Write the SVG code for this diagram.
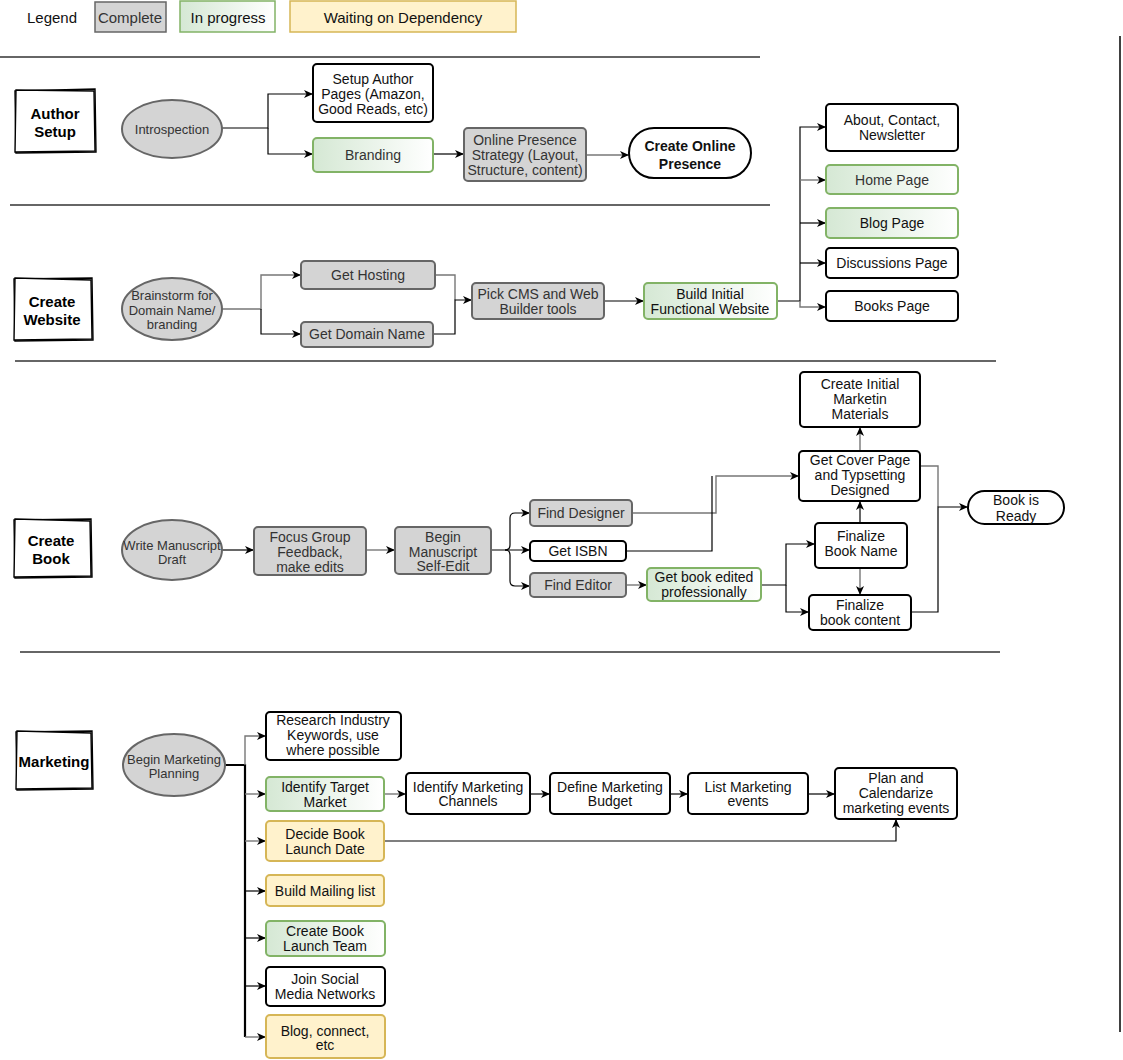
<svg xmlns="http://www.w3.org/2000/svg" width="1123" height="1060" viewBox="0 0 1123 1060">
<style>
text{font-family:"Liberation Sans",Arial,sans-serif;font-size:14px;text-anchor:middle;dominant-baseline:central;fill:#111}
.g text,text.g{fill:#333}
.e text{font-size:13px;fill:#333}
.lbl text{font-size:15px;font-weight:bold;fill:#000}
.gray{fill:#d4d4d4;stroke:#666;stroke-width:2}
.grn{fill:url(#gr);stroke:#82b366;stroke-width:2}
.yel{fill:#fff2cc;stroke:#d6b656;stroke-width:2}
.blk{fill:#fff;stroke:#000;stroke-width:2}
.sk{fill:#fff;stroke:#000;stroke-width:1.4}
.c{fill:none;stroke:#000;stroke-width:1.2}
.cg{fill:none;stroke:#777;stroke-width:1.4}
.sec{stroke:#333;stroke-width:1.3}
</style>
<defs>
<linearGradient id="gr" x1="0" y1="0" x2="1" y2="0"><stop offset="0" stop-color="#d5e8d4"/><stop offset="1" stop-color="#ffffff"/></linearGradient>
<marker id="a" markerUnits="userSpaceOnUse" markerWidth="10" markerHeight="10" refX="9" refY="4" orient="auto"><path d="M0,0 L9,4 L0,8 L2.5,4 Z" fill="#000"/></marker>
</defs>
<rect width="1123" height="1060" fill="#fff"/>

<g id="legend">
<text x="52" y="17" style="font-size:15px">Legend</text>
<rect x="95" y="2" width="71" height="30" fill="#d4d4d4" stroke="#666" stroke-width="1.5"/>
<text x="130" y="17" style="font-size:15px;fill:#333">Complete</text>
<rect x="180" y="1" width="95" height="31" fill="url(#gr)" stroke="#82b366" stroke-width="1.5"/>
<text x="228" y="17" style="font-size:15px">In progress</text>
<rect x="290" y="1" width="226" height="31" fill="#fff2cc" stroke="#d6b656" stroke-width="1.5"/>
<text x="403" y="17" style="font-size:15px">Waiting on Dependency</text>
</g>

<g id="separators">
<line class="sec" x1="0" y1="57" x2="760" y2="57"/>
<line class="sec" x1="10" y1="205" x2="770" y2="205"/>
<line class="sec" x1="15" y1="361" x2="996" y2="361"/>
<line class="sec" x1="20" y1="652" x2="1000" y2="652"/>
<line x1="1120" y1="36" x2="1120" y2="1032" stroke="#000" stroke-width="1.5"/>
</g>

<g id="connectors">
<path class="c" d="M222,128 H268 V94 H313" marker-end="url(#a)"/>
<path class="c" d="M268,128 V154 H313" marker-end="url(#a)"/>
<path class="c" d="M433,154 H464" marker-end="url(#a)"/>
<path class="cg" d="M586,155 H629" marker-end="url(#a)"/>
<path class="cg" d="M222,309 H261 V275 H301" marker-end="url(#a)"/>
<path class="c" d="M261,309 V334 H301" marker-end="url(#a)"/>
<path class="cg" d="M435,275 H455 V300"/>
<path class="c" d="M433,334 H455 V300 H472" marker-end="url(#a)"/>
<path class="c" d="M604,301 H644" marker-end="url(#a)"/>
<path class="c" d="M777,301 H800 V127 H826" marker-end="url(#a)"/>
<path class="cg" d="M800,180 H826" marker-end="url(#a)"/>
<path class="c" d="M800,223 H826" marker-end="url(#a)"/>
<path class="c" d="M800,263 H826" marker-end="url(#a)"/>
<path class="cg" d="M800,301 V307 H826" marker-end="url(#a)"/>
<path class="c" d="M222,550 H254" marker-end="url(#a)"/>
<path class="cg" d="M366,550 H395" marker-end="url(#a)"/>
<path class="c" d="M491,550 H530" marker-end="url(#a)"/>
<path class="c" d="M505,550 Q510,550 510,545 V518 Q510,513 515,513 H530" marker-end="url(#a)"/>
<path class="c" d="M505,550 Q510,550 510,555 V581 Q510,586 515,586 H530" marker-end="url(#a)"/>
<path class="cg" d="M626,585 H647" marker-end="url(#a)"/>
<path class="cg" d="M632,513 H716 V476 H799" marker-end="url(#a)"/>
<path class="c" d="M626,551 H712 V476"/>
<path class="c" d="M761,585 H786 V544 H815" marker-end="url(#a)"/>
<path class="c" d="M786,585 V612 H809" marker-end="url(#a)"/>
<path class="c" d="M860,523 V501" marker-end="url(#a)"/>
<path class="cg" d="M860,568 V595" marker-end="url(#a)"/>
<path class="cg" d="M860,451 V427" marker-end="url(#a)"/>
<path class="cg" d="M920,466 H938 V507"/>
<path class="c" d="M911,612 H938 V507 H968" marker-end="url(#a)"/>
<path d="M225,765 H245 V1037" fill="none" stroke="#000" stroke-width="2.2"/>
<path class="cg" d="M245,765 V736 H266" marker-end="url(#a)"/>
<path class="cg" d="M245,794 H266" marker-end="url(#a)"/>
<path class="cg" d="M245,841 H266" marker-end="url(#a)"/>
<path class="c" d="M245,891 H266" marker-end="url(#a)"/>
<path class="c" d="M245,938 H266" marker-end="url(#a)"/>
<path class="c" d="M245,986 H266" marker-end="url(#a)"/>
<path class="cg" d="M245,1037 H266" marker-end="url(#a)"/>
<path class="cg" d="M384,794 H406" marker-end="url(#a)"/>
<path class="c" d="M530,794 H550" marker-end="url(#a)"/>
<path class="c" d="M670,794 H688" marker-end="url(#a)"/>
<path class="c" d="M808,794 H835" marker-end="url(#a)"/>
<path class="c" d="M384,841 H896 V819" marker-end="url(#a)"/>
</g>

<g id="lane-author" class="lbl">
<path class="sk" d="M15,91 L95,89 L96,152 L16,153 Z"/>
<path class="sk" d="M16,90 L94,91 L95,151 L15,152 Z" stroke-width="1"/>
<text x="55" y="113">Author</text><text x="55" y="131">Setup</text>
</g>
<g id="n-introspection" class="e">
<ellipse cx="172" cy="129" rx="50" ry="29" class="gray"/>
<text x="172" y="129">Introspection</text>
</g>
<g id="n-setup-author">
<rect x="313" y="64" width="120" height="58" rx="4" class="blk"/>
<text x="373" y="79">Setup Author</text><text x="373" y="94">Pages (Amazon,</text><text x="373" y="109">Good Reads, etc)</text>
</g>
<g id="n-branding" class="g">
<rect x="313" y="138" width="120" height="34" rx="4" class="grn"/>
<text x="373" y="155">Branding</text>
</g>
<g id="n-online-strategy" class="g">
<rect x="464" y="128" width="122" height="53" rx="4" class="gray"/>
<text x="525" y="140">Online Presence</text><text x="525" y="155">Strategy (Layout,</text><text x="525" y="170">Structure, content)</text>
</g>
<g id="n-create-online">
<rect x="629" y="128" width="122" height="50" rx="25" class="blk"/>
<text x="690" y="146" style="font-weight:bold">Create Online</text><text x="690" y="164" style="font-weight:bold">Presence</text>
</g>
<g id="n-about">
<rect x="826" y="104" width="132" height="47" rx="4" class="blk"/>
<text x="892" y="120">About, Contact,</text><text x="892" y="135">Newsletter</text>
</g>
<g id="n-home" class="g">
<rect x="826" y="165" width="132" height="29" rx="4" class="grn"/>
<text x="892" y="180">Home Page</text>
</g>
<g id="n-blog">
<rect x="826" y="208" width="132" height="30" rx="4" class="grn"/>
<text x="892" y="223">Blog Page</text>
</g>
<g id="n-discussions">
<rect x="826" y="248" width="132" height="30" rx="4" class="blk"/>
<text x="892" y="263">Discussions Page</text>
</g>
<g id="n-books">
<rect x="826" y="291" width="132" height="30" rx="4" class="blk"/>
<text x="892" y="306">Books Page</text>
</g>

<g id="lane-website" class="lbl">
<path class="sk" d="M14,279 L92,278 L93,340 L15,341 Z"/>
<path class="sk" d="M15,278 L91,280 L92,339 L14,340 Z" stroke-width="1"/>
<text x="52" y="301">Create</text><text x="52" y="319">Website</text>
</g>
<g id="n-brainstorm" class="e">
<ellipse cx="172" cy="309" rx="50" ry="31" class="gray"/>
<text x="172" y="295">Brainstorm for</text><text x="172" y="310">Domain Name/</text><text x="172" y="324">branding</text>
</g>
<g id="n-hosting" class="g">
<rect x="301" y="261" width="134" height="28" rx="4" class="gray"/>
<text x="368" y="275">Get Hosting</text>
</g>
<g id="n-domain" class="g">
<rect x="301" y="322" width="132" height="25" rx="4" class="gray"/>
<text x="367" y="334">Get Domain Name</text>
</g>
<g id="n-cms" class="g">
<rect x="472" y="283" width="132" height="36" rx="4" class="gray"/>
<text x="538" y="294">Pick CMS and Web</text><text x="538" y="309">Builder tools</text>
</g>
<g id="n-build-site">
<rect x="644" y="283" width="133" height="36" rx="4" class="grn"/>
<text x="710" y="294">Build Initial</text><text x="710" y="309">Functional Website</text>
</g>

<g id="lane-book" class="lbl">
<path class="sk" d="M14,520 L91,519 L92,577 L15,578 Z"/>
<path class="sk" d="M15,519 L90,521 L91,576 L14,577 Z" stroke-width="1"/>
<text x="51" y="540">Create</text><text x="51" y="558">Book</text>
</g>
<g id="n-write" class="e">
<ellipse cx="172" cy="550" rx="50" ry="30" class="gray"/>
<text x="172" y="545">Write Manuscript</text><text x="172" y="559">Draft</text>
</g>
<g id="n-focus" class="g">
<rect x="254" y="527" width="112" height="48" rx="4" class="gray"/>
<text x="310" y="537">Focus Group</text><text x="310" y="552">Feedback,</text><text x="310" y="567">make edits</text>
</g>
<g id="n-self-edit" class="g">
<rect x="395" y="527" width="96" height="47" rx="4" class="gray"/>
<text x="443" y="537">Begin</text><text x="443" y="552">Manuscript</text><text x="443" y="566">Self-Edit</text>
</g>
<g id="n-designer" class="g">
<rect x="530" y="500" width="102" height="26" rx="4" class="gray"/>
<text x="581" y="513">Find Designer</text>
</g>
<g id="n-isbn">
<rect x="530" y="541" width="96" height="20" rx="4" class="blk"/>
<text x="578" y="551">Get ISBN</text>
</g>
<g id="n-editor" class="g">
<rect x="530" y="573" width="96" height="24" rx="4" class="gray"/>
<text x="578" y="585">Find Editor</text>
</g>
<g id="n-edited">
<rect x="647" y="568" width="114" height="33" rx="4" class="grn"/>
<text x="704" y="577">Get book edited</text><text x="704" y="592">professionally</text>
</g>
<g id="n-marketing-materials">
<rect x="800" y="372" width="120" height="55" rx="4" class="blk"/>
<text x="860" y="384">Create Initial</text><text x="860" y="399">Marketin</text><text x="860" y="414">Materials</text>
</g>
<g id="n-cover">
<rect x="799" y="451" width="121" height="50" rx="4" class="blk"/>
<text x="860" y="460">Get Cover Page</text><text x="860" y="475">and Typsetting</text><text x="860" y="490">Designed</text>
</g>
<g id="n-book-name">
<rect x="815" y="523" width="92" height="45" rx="4" class="blk"/>
<text x="861" y="536">Finalize</text><text x="861" y="551">Book Name</text>
</g>
<g id="n-book-content">
<rect x="809" y="595" width="102" height="35" rx="4" class="blk"/>
<text x="860" y="605">Finalize</text><text x="860" y="620">book content</text>
</g>
<g id="n-ready">
<rect x="968" y="491" width="96" height="33" rx="16.5" class="blk"/>
<text x="1016" y="500">Book is</text><text x="1016" y="516">Ready</text>
</g>

<g id="lane-marketing" class="lbl">
<path class="sk" d="M16,732 L92,731 L93,789 L17,790 Z"/>
<path class="sk" d="M17,731 L91,733 L92,788 L16,789 Z" stroke-width="1"/>
<text x="54" y="761">Marketing</text>
</g>
<g id="n-begin-marketing" class="e">
<ellipse cx="174" cy="765" rx="51" ry="31" class="gray"/>
<text x="174" y="759">Begin Marketing</text><text x="174" y="773">Planning</text>
</g>
<g id="n-research">
<rect x="266" y="712" width="135" height="48" rx="4" class="blk"/>
<text x="333" y="720">Research Industry</text><text x="333" y="735">Keywords, use</text><text x="333" y="750">where possible</text>
</g>
<g id="n-target">
<rect x="266" y="777" width="118" height="34" rx="4" class="grn"/>
<text x="325" y="787">Identify Target</text><text x="325" y="802">Market</text>
</g>
<g id="n-channels">
<rect x="406" y="773" width="124" height="41" rx="4" class="blk"/>
<text x="468" y="787">Identify Marketing</text><text x="468" y="801">Channels</text>
</g>
<g id="n-budget">
<rect x="550" y="773" width="120" height="41" rx="4" class="blk"/>
<text x="610" y="787">Define Marketing</text><text x="610" y="801">Budget</text>
</g>
<g id="n-events">
<rect x="688" y="773" width="120" height="41" rx="4" class="blk"/>
<text x="748" y="787">List Marketing</text><text x="748" y="801">events</text>
</g>
<g id="n-plan">
<rect x="835" y="768" width="122" height="51" rx="4" class="blk"/>
<text x="896" y="778">Plan and</text><text x="896" y="793">Calendarize</text><text x="896" y="808">marketing events</text>
</g>
<g id="n-launch-date">
<rect x="266" y="821" width="118" height="40" rx="4" class="yel"/>
<text x="325" y="834">Decide Book</text><text x="325" y="849">Launch Date</text>
</g>
<g id="n-mailing">
<rect x="266" y="875" width="118" height="31" rx="4" class="yel"/>
<text x="325" y="891">Build Mailing list</text>
</g>
<g id="n-launch-team">
<rect x="266" y="921" width="119" height="35" rx="4" class="grn"/>
<text x="325" y="931">Create Book</text><text x="325" y="946">Launch Team</text>
</g>
<g id="n-social">
<rect x="266" y="967" width="119" height="39" rx="4" class="blk"/>
<text x="325" y="979">Join Social</text><text x="325" y="994">Media Networks</text>
</g>
<g id="n-blog-connect">
<rect x="266" y="1015" width="119" height="43" rx="4" class="yel"/>
<text x="325" y="1031">Blog, connect,</text><text x="325" y="1045">etc</text>
</g>
</svg>
